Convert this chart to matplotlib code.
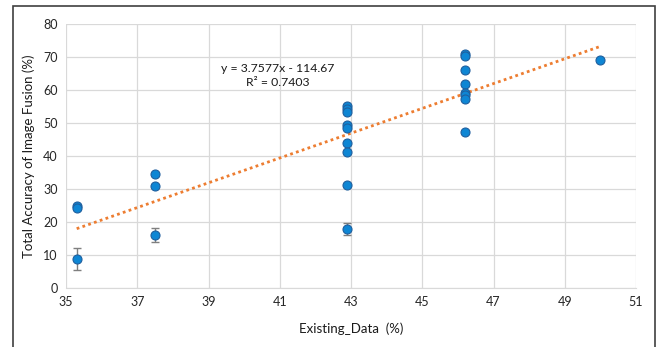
import matplotlib
matplotlib.use("Agg")
import matplotlib.pyplot as plt
from matplotlib.patches import Rectangle
import numpy as np

plt.rcParams['font.family'] = ['Lato', 'DejaVu Sans']

# Data
x_vals = [35.3, 35.3, 35.3,
          37.5, 37.5, 37.5,
          42.9, 42.9, 42.9, 42.9, 42.9, 42.9, 42.9, 42.9, 42.9,
          46.2, 46.2, 46.2, 46.2, 46.2, 46.2, 46.2, 46.2,
          50.0]
y_vals = [24.8, 24.3, 8.8,
          34.5, 30.8, 16.1,
          55.0, 54.1, 53.3, 49.5, 48.4, 44.0, 41.1, 31.3, 18.0,
          70.8, 70.3, 66.2, 61.9, 59.1, 58.5, 57.2, 47.2,
          69.1]
y_err = [0.0, 0.0, 3.2,
         0.0, 0.0, 2.2,
         0.0, 0.0, 0.0, 0.0, 0.0, 0.0, 0.0, 0.0, 1.8,
         0.0, 0.0, 0.0, 0.0, 0.0, 0.0, 0.0, 0.0,
         0.0]
slope = 3.7577
intercept = -114.67
r_squared = 0.7403
x_ticks = [35, 37, 39, 41, 43, 45, 47, 49, 51]
y_ticks = [0, 10, 20, 30, 40, 50, 60, 70, 80]

fig = plt.figure(figsize=(6.59, 3.47), dpi=100)
ax = fig.add_axes([66/659, 1-288/347, (636-66)/659, (288-24)/347])

# frame around figure
fig.patches.append(Rectangle((13/659, -0.05), (655-13)/659, 1.05 - 6/347,
                             transform=fig.transFigure, fill=False,
                             edgecolor='#404040', linewidth=1.2))

ax.set_xlim(35, 51)
ax.set_ylim(0, 80)
ax.set_xticks(x_ticks)
ax.set_yticks(y_ticks)
ax.grid(True, color='#d9d9d9', linewidth=0.9)
ax.set_axisbelow(True)
for s in ['top', 'right', 'left']:
    ax.spines[s].set_visible(False)
ax.spines['bottom'].set_color('#d9d9d9')
ax.tick_params(length=0, labelsize=9, colors='#262626', pad=6)

# trendline
xl = np.array([min(x_vals), max(x_vals)])
ax.plot(xl, slope*xl + intercept, linestyle=(0, (1, 1.2)), color='#ED7D31',
        linewidth=2.0, zorder=2)

# error bars
xe = [x for x, e in zip(x_vals, y_err) if e > 0]
ye = [y for y, e in zip(y_vals, y_err) if e > 0]
ee = [e for e in y_err if e > 0]
ax.errorbar(xe, ye, yerr=ee, fmt='none', ecolor='#7f7f7f', elinewidth=1,
            capsize=3, capthick=1, zorder=3)

ax.scatter(x_vals, y_vals, s=42, color='#0E86D4', edgecolor='#1F5F9E',
           linewidth=0.8, zorder=4)

ax.text(40.95, 64.5, f"y = {slope}x - {abs(intercept)}\nR\u00b2 = {r_squared}",
        ha='center', va='center', fontsize=8.8, color='#1a1a1a', linespacing=1.3)

ax.set_xlabel("Existing_Data  (%)", fontsize=9.5, color='#1a1a1a', labelpad=10)
ax.set_ylabel("Total Accuracy of Image Fusion (%)", fontsize=9.5, color='#1a1a1a', labelpad=6)

fig.savefig("out.png", dpi=100)
